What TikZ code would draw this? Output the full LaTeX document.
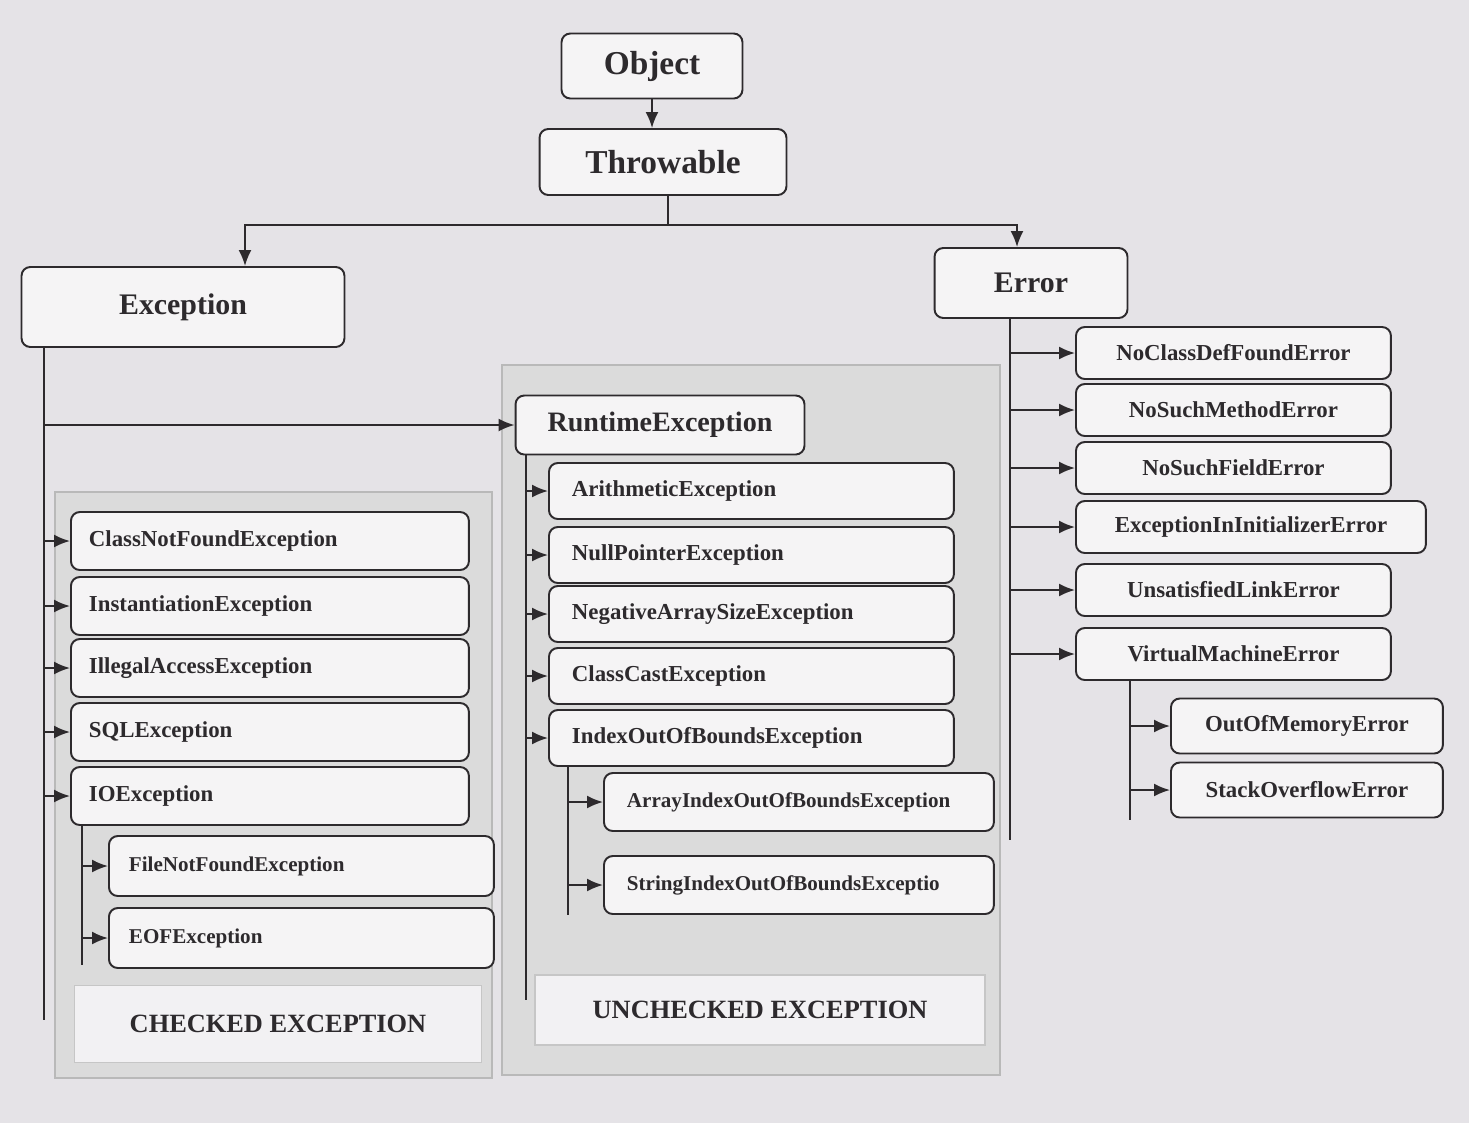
\documentclass[tikz,border=0pt]{standalone}
\usepackage{fontspec}
\setmainfont{Liberation Serif}
\usetikzlibrary{arrows.meta,positioning}
\definecolor{pagebg}{RGB}{229,227,231}
\definecolor{ink}{RGB}{45,42,45}

\begin{document}
\begin{tikzpicture}[x=0.02cm, y=-0.02cm, line width=1.1pt, color=ink,
  arr/.style={-{Latex[length=3.2mm,width=2.6mm]}},
  box/.style={draw, rounded corners=5pt, fill=pagebg!40!white, font=\bfseries\fontsize{13}{15}\selectfont},
  bigbox/.style={box, font=\bfseries\fontsize{19}{22}\selectfont},
  kid/.style={box, anchor=west, align=left},
  chk/.style={kid, text width=7.24cm, inner xsep=0.36cm, minimum height=1.16cm},
  chksub/.style={kid, text width=6.9cm, inner xsep=0.4cm, minimum height=1.2cm, font=\bfseries\fontsize{12}{14}\selectfont},
  unc/.style={kid, text width=7.18cm, inner xsep=0.46cm, minimum height=1.12cm},
  uncsub/.style={kid, text width=6.88cm, inner xsep=0.46cm, minimum height=1.16cm, font=\bfseries\fontsize{12}{14}\selectfont},
  erk/.style={box, anchor=west, minimum width=6.3cm, minimum height=1.04cm},
  errsub/.style={box, anchor=west, minimum width=5.44cm, minimum height=1.1cm},
  group/.style={draw=gray!55, fill=gray!28, line width=1.5pt},
  strip/.style={draw=gray!45, fill=pagebg!50!white, line width=1pt, font=\bfseries\fontsize{15}{18}\selectfont}]
\fill[pagebg] (0,0) rectangle (1469,1123);
\useasboundingbox (0,0) rectangle (1469,1123);

% groups
\draw[group] (55,492) rectangle (492,1078);
\node[strip, minimum width=8.14cm, minimum height=1.54cm] (chklbl) at (278,1024) {CHECKED EXCEPTION};
\draw[group] (502,365) rectangle (1000,1075);
\node[strip, minimum width=9cm, minimum height=1.4cm] (unclbl) at (760,1010) {UNCHECKED EXCEPTION};

% top of the hierarchy
\node[bigbox, minimum width=3.62cm, minimum height=1.3cm] (obj) at (652,66) {Object};
\node[bigbox, minimum width=4.94cm, minimum height=1.32cm] (thr) at (663,162) {Throwable};
\node[bigbox, minimum width=6.46cm, minimum height=1.6cm, font=\bfseries\fontsize{17}{20}\selectfont] (exc) at (183,307) {Exception};
\node[bigbox, minimum width=3.86cm, minimum height=1.4cm, font=\bfseries\fontsize{17}{20}\selectfont] (err) at (1031,283) {Error};
\node[bigbox, minimum width=5.78cm, minimum height=1.18cm, font=\bfseries\fontsize{16}{19}\selectfont] (rte) at (660,425) {RuntimeException};

% checked
\node[chk] (cnf) at (70,541) {ClassNotFoundException};
\node[chk] (inst) at (70,606) {InstantiationException};
\node[chk] (ill) at (70,668) {IllegalAccessException};
\node[chk] (sql) at (70,732) {SQLException};
\node[chk] (io) at (70,796) {IOException};
\node[chksub] (fnf) at (108,866) {FileNotFoundException};
\node[chksub] (eof) at (108,938) {EOFException};

% unchecked
\node[unc] (arith) at (548,491) {ArithmeticException};
\node[unc] (npe) at (548,555) {NullPointerException};
\node[unc] (nase) at (548,614) {NegativeArraySizeException};
\node[unc] (cce) at (548,676) {ClassCastException};
\node[unc] (ioobe) at (548,738) {IndexOutOfBoundsException};
\node[uncsub] (aioobe) at (603,802) {ArrayIndexOutOfBoundsException};
\node[uncsub] (sioobe) at (603,885) {StringIndexOutOfBoundsExceptio};

% errors
\node[erk] (ncdf) at (1075,353) {NoClassDefFoundError};
\node[erk] (nsme) at (1075,410) {NoSuchMethodError};
\node[erk] (nsfe) at (1075,468) {NoSuchFieldError};
\node[erk, minimum width=7cm] (eiie) at (1075,527) {ExceptionInInitializerError};
\node[erk] (ule) at (1075,590) {UnsatisfiedLinkError};
\node[erk] (vme) at (1075,654) {VirtualMachineError};
\node[errsub] (oome) at (1170,726) {OutOfMemoryError};
\node[errsub] (soe) at (1170,790) {StackOverflowError};

% connectors
\coordinate (fork) at (668,225);
\coordinate (excin) at (245,225);
\coordinate (errin) at (1017,225);
\draw[arr] (obj.south) -- (obj.south |- thr.north);
\draw (thr.south -| fork) -- (fork);
\draw[arr] (fork) -| (exc.north -| excin);
\draw[arr] (fork) -| (err.north -| errin);

\coordinate (excspine) at (44,0);
\draw (exc.south -| excspine) -- (44,1020);
\draw[arr] (rte.west -| excspine) -- (rte.west);
\foreach \n in {cnf,inst,ill,sql,io}
  \draw[arr] (\n.west -| excspine) -- (\n.west);

\coordinate (iospine) at (82,0);
\draw (io.south -| iospine) -- (82,965);
\foreach \n in {fnf,eof}
  \draw[arr] (\n.west -| iospine) -- (\n.west);

\coordinate (rtespine) at (526,0);
\draw (rte.south -| rtespine) -- (526,1000);
\foreach \n in {arith,npe,nase,cce,ioobe}
  \draw[arr] (\n.west -| rtespine) -- (\n.west);

\coordinate (ioobespine) at (568,0);
\draw (ioobe.south -| ioobespine) -- (568,915);
\foreach \n in {aioobe,sioobe}
  \draw[arr] (\n.west -| ioobespine) -- (\n.west);

\coordinate (errspine) at (1010,0);
\draw (err.south -| errspine) -- (1010,840);
\foreach \n in {ncdf,nsme,nsfe,eiie,ule,vme}
  \draw[arr] (\n.west -| errspine) -- (\n.west);

\coordinate (vmespine) at (1130,0);
\draw (vme.south -| vmespine) -- (1130,820);
\foreach \n in {oome,soe}
  \draw[arr] (\n.west -| vmespine) -- (\n.west);
\end{tikzpicture}
\end{document}
